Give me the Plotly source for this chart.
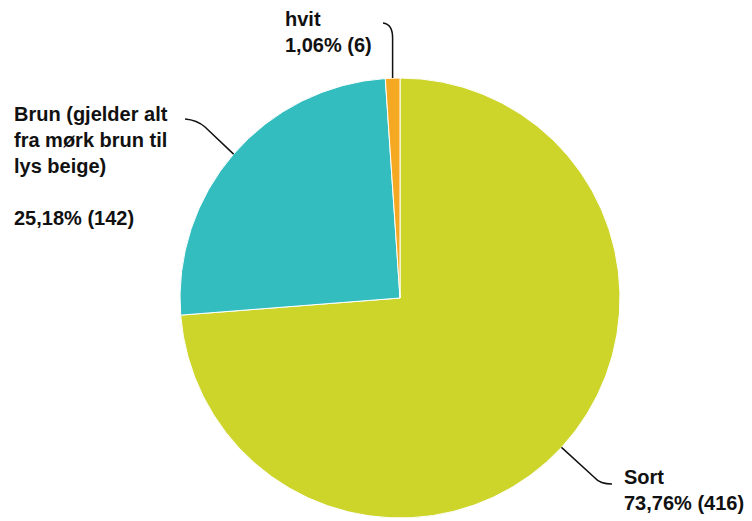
import math
import plotly.graph_objects as go

# ---- data ----
labels = ["Sort", "Brun (gjelder alt fra mørk brun til lys beige)", "hvit"]
label_text = ["Sort", "Brun (gjelder alt<br>fra mørk brun til<br>lys beige)<br>", "hvit"]
counts = [416, 142, 6]
colors = ["#CDD52B", "#34BDBF", "#F5A922"]

W, H = 752, 521
OFF = 8  # page body margin compensation
CX, CY, R = 400, 298, 220

fig = go.Figure()
fig.add_trace(go.Pie(
    labels=labels, values=counts, sort=False, direction="clockwise", rotation=0,
    marker=dict(colors=colors, line=dict(color="white", width=1)),
    textinfo="none", hoverinfo="label+value+percent", showlegend=False,
    domain=dict(x=[(CX - R - OFF) / W, (CX + R - OFF) / W],
                y=[1 - (CY + R - OFF) / H, 1 - (CY - R - OFF) / H]),
))

total = sum(counts)
label_pos = [
    dict(tx=622, ty=490, path=lambda ax, ay: f"M {ax},{ay} L 595,478 Q 600,484 612,484"),
    dict(tx=12, ty=166, path=lambda ax, ay: f"M {ax},{ay} L 205,127 Q 197,120 185,119"),
    dict(tx=283, ty=32, path=lambda ax, ay: f"M {ax},{ay} L {ax},38 Q {ax},24 383,23"),
]

cum = 0
annotations = []
shapes = []
for i, c in enumerate(counts):
    mid = (cum + c / 2) / total * 2 * math.pi
    cum += c
    ax = CX + R * math.sin(mid)
    ay = CY - R * math.cos(mid)
    pct = f"{c / total * 100:.2f}".replace(".", ",")
    txt = f"{label_text[i]}<br>{pct}% ({c})"
    p = label_pos[i]
    annotations.append(dict(
        x=p["tx"], y=p["ty"], xref="x", yref="y", text=txt, showarrow=False,
        xanchor="left", yanchor="middle", align="left",
        font=dict(family="Liberation Sans, Arial, sans-serif", size=20, color="#111111", weight="bold"),
    ))
    shapes.append(dict(type="path", xref="x", yref="y", path=p["path"](round(ax, 1), round(ay, 1)),
                       line=dict(color="#111111", width=1.5)))

fig.update_layout(
    width=W, height=H, margin=dict(l=0, r=0, t=0, b=0),
    paper_bgcolor="white", plot_bgcolor="rgba(0,0,0,0)",
    xaxis=dict(range=[OFF, W + OFF], visible=False, fixedrange=True),
    yaxis=dict(range=[H + OFF, OFF], visible=False, fixedrange=True),
    annotations=annotations, shapes=shapes,
)
fig.write_html("out.html")
